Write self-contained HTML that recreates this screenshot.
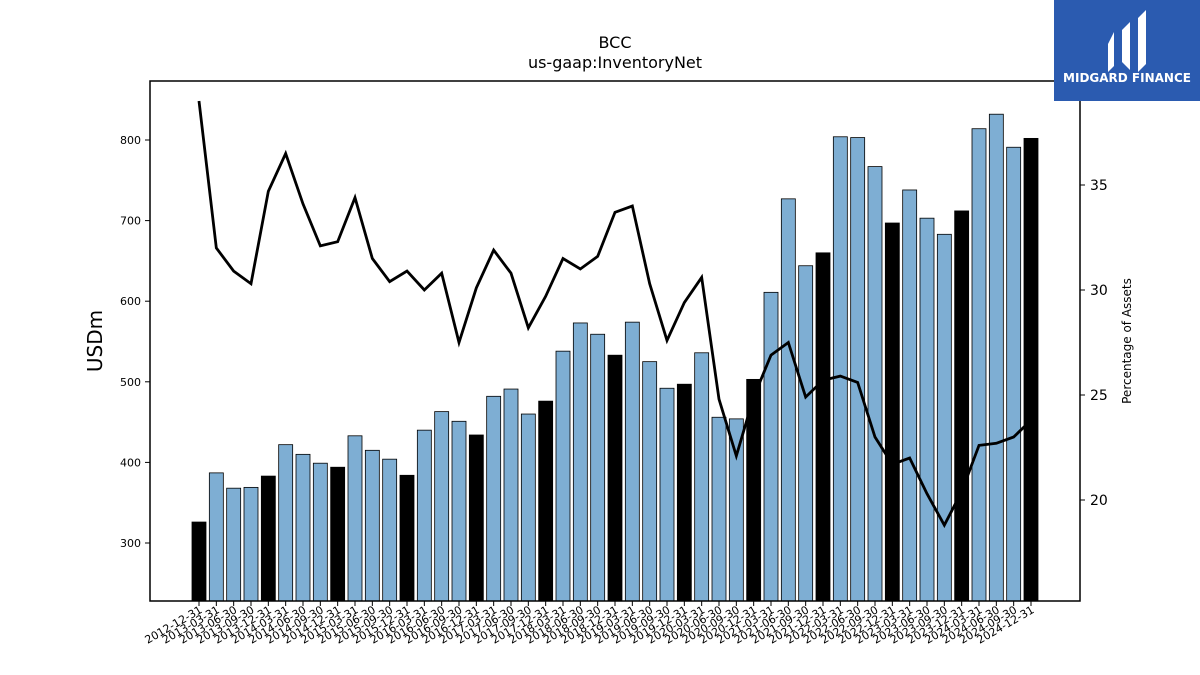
<!DOCTYPE html>
<html><head><meta charset="utf-8"><style>
body{margin:0;background:#fff;}
svg{display:block;font-family:"DejaVu Sans","Liberation Sans",sans-serif;}
</style></head><body>
<svg id="chart" width="1200" height="675" viewBox="0 0 1200 675">
<rect width="1200" height="675" fill="#fff"/>
<text x="615" y="48" font-size="16" text-anchor="middle">BCC</text>
<text x="615" y="68" font-size="16" text-anchor="middle">us-gaap:InventoryNet</text>
<g id="bars"></g>
<g id="line"></g>
<rect x="150" y="81" width="930" height="520" fill="none" stroke="#000" stroke-width="1.5"/>
<g id="yl"></g>
<g id="yr"></g>
<g id="xa"></g>
<text transform="translate(102,341) rotate(-90)" font-size="20" text-anchor="middle">USDm</text>
<text transform="translate(1131,341) rotate(-90)" font-size="12" text-anchor="middle">Percentage of Assets</text>
<g>
<rect x="1054" y="0" width="146" height="101" fill="#2b5bb0"/>
<path d="M1108 44 L1114 32 L1114 66 L1108 72 Z M1122 30 L1130 22 L1130 44 L1122 52 Z M1122 52 L1130 44 L1130 70 L1122 62 Z M1138 18 L1146 10 L1146 64 L1138 72 Z" fill="#fff"/>
<text x="1127" y="82" font-size="12" font-weight="bold" fill="#fff" text-anchor="middle">MIDGARD FINANCE</text>
</g>
</svg>
<script>
const dates=["2012-12-31","2013-03-31","2013-06-30","2013-09-30","2013-12-31","2014-03-31","2014-06-30","2014-09-30","2014-12-31","2015-03-31","2015-06-30","2015-09-30","2015-12-31","2016-03-31","2016-06-30","2016-09-30","2016-12-31","2017-03-31","2017-06-30","2017-09-30","2017-12-31","2018-03-31","2018-06-30","2018-09-30","2018-12-31","2019-03-31","2019-06-30","2019-09-30","2019-12-31","2020-03-31","2020-06-30","2020-09-30","2020-12-31","2021-03-31","2021-06-30","2021-09-30","2021-12-31","2022-03-31","2022-06-30","2022-09-30","2022-12-31","2023-03-31","2023-06-30","2023-09-30","2023-12-31","2024-03-31","2024-06-30","2024-09-30","2024-12-31"];
const inventory=[326,387,368,369,383,422,410,399,394,433,415,404,384,440,463,451,434,482,491,460,476,538,573,559,533,574,525,492,497,536,456,454,503,611,727,644,660,804,803,767,697,738,703,683,712,814,832,791,802];
const pctAssets=[39.0,32.0,30.9,30.3,34.7,36.5,34.1,32.1,32.3,34.4,31.5,30.4,30.9,30.0,30.8,27.5,30.1,31.9,30.8,28.2,29.7,31.5,31.0,31.6,33.7,34.0,30.3,27.6,29.4,30.6,24.8,22.1,24.9,26.9,27.5,24.9,25.7,25.9,25.6,23.0,21.7,22.0,20.3,18.8,20.4,22.6,22.7,23.0,23.8];
const leftTicks=[300,400,500,600,700,800];
const rightTicks=[20,25,30,35];
const NS="http://www.w3.org/2000/svg";
const x=i=>199+i*(832/48);
const yL=v=>543-(v-300)*0.806;
const yR=v=>500-(v-20)*21;
function mk(t,a,p){const e=document.createElementNS(NS,t);for(const k in a)e.setAttribute(k,a[k]);p.appendChild(e);return e;}
const bars=document.getElementById('bars');
inventory.forEach((v,i)=>{
 const q4=dates[i].endsWith("12-31");
 const r=mk('rect',{x:x(i)-7,y:yL(v),width:14,height:601-yL(v),fill:q4?'#000':'#7eaed3',stroke:'#000','stroke-width':0.8},bars);
 
 
});
const line=document.getElementById('line');
const pl=mk('polyline',{points:pctAssets.map((v,i)=>x(i)+','+yR(v)).join(' '),fill:'none',stroke:'#000','stroke-width':2.8},line);


const yl=document.getElementById('yl');
leftTicks.forEach(v=>{
 mk('line',{x1:145,x2:150,y1:yL(v),y2:yL(v),stroke:'#000'},yl);
 const t=mk('text',{x:141,y:yL(v)+4,'font-size':11,'text-anchor':'end'},yl);t.textContent=v;
 
 
});
const yr=document.getElementById('yr');
rightTicks.forEach(v=>{
 mk('line',{x1:1080,x2:1085,y1:yR(v),y2:yR(v),stroke:'#000'},yr);
 const t=mk('text',{x:1090,y:yR(v)+5,'font-size':14},yr);t.textContent=v;
 
 
});
const xa=document.getElementById('xa');
dates.forEach((d,i)=>{
 mk('line',{x1:x(i),x2:x(i),y1:601,y2:606,stroke:'#000'},xa);
 const t=mk('text',{transform:`translate(${x(i)+4},${612}) rotate(-30)`,'font-size':11,'text-anchor':'end'},xa);t.textContent=d;
 
 
});
</script>
</body></html>
